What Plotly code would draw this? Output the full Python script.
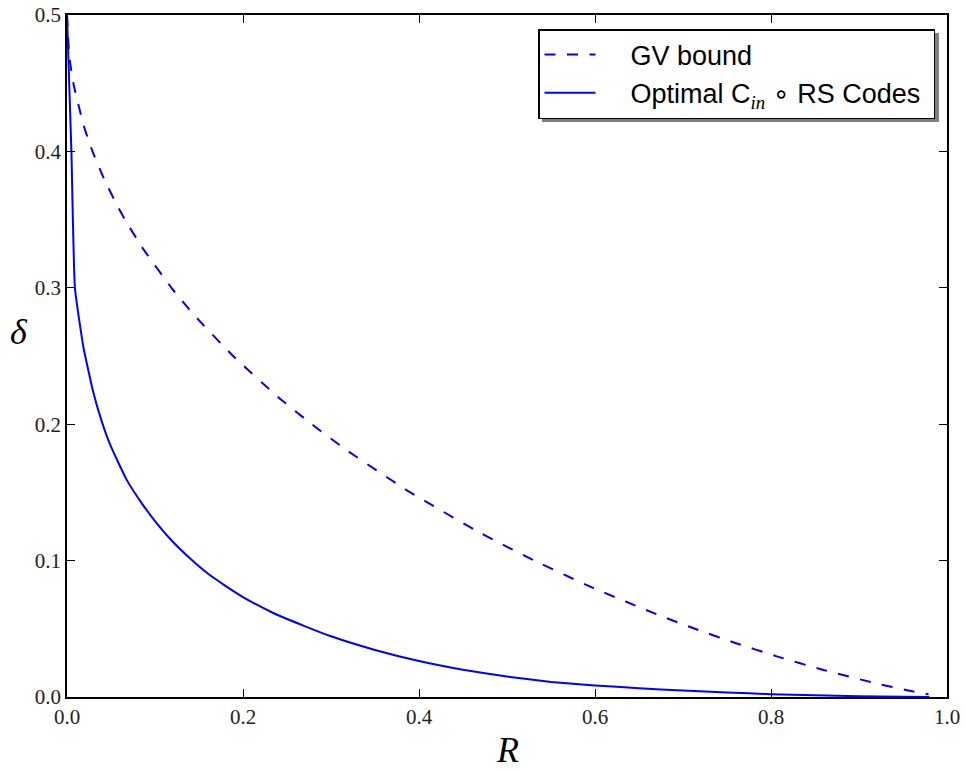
import plotly.graph_objects as go

# GV bound
gv_R = [0.0, 0.0026, 0.0072, 0.0185, 0.0235, 0.029, 0.042, 0.0573, 0.0659, 0.085,
        0.1187, 0.1445, 0.1887, 0.2398, 0.2781, 0.3199, 0.3902, 0.4706, 0.531,
        0.5978, 0.6726, 0.7136, 0.7577, 0.8056, 0.8586, 0.9192, 0.9546, 0.979]
gv_d = [0.5, 0.47, 0.45, 0.42, 0.41, 0.40, 0.38, 0.36, 0.35, 0.33,
        0.30, 0.28, 0.25, 0.22, 0.20, 0.18, 0.15, 0.12, 0.10,
        0.08, 0.06, 0.05, 0.04, 0.03, 0.02, 0.01, 0.005, 0.002]

# Optimal C_in o RS codes
rs_R = [0.0, 0.005, 0.009, 0.0185, 0.030, 0.040, 0.050, 0.068, 0.085, 0.10, 0.12, 0.14,
        0.16, 0.18, 0.20, 0.235, 0.27, 0.30, 0.35, 0.40, 0.45, 0.50, 0.55, 0.60,
        0.65, 0.70, 0.75, 0.80, 0.85, 0.90, 0.95, 0.98]
rs_d = [0.5, 0.40, 0.30, 0.257, 0.223, 0.201, 0.1835, 0.159, 0.142, 0.129, 0.114, 0.1015,
        0.0905, 0.0815, 0.0733, 0.0614, 0.052, 0.0445, 0.0345, 0.0264, 0.020, 0.0150, 0.0110, 0.0085,
        0.0064, 0.0047, 0.0033, 0.0021, 0.0012, 0.0006, 0.0002, 0.0]

x_ticks = [0.0, 0.2, 0.4, 0.6, 0.8, 1.0]
y_ticks = [0.0, 0.1, 0.2, 0.3, 0.4, 0.5]

W, H = 966, 772
L, R_, T, B = 67, 19, 15, 75

pad = "\u00a0" * 4
fig = go.Figure()
fig.add_trace(go.Scatter(x=gv_R, y=gv_d, mode="lines", name=pad + "GV bound",
                         line=dict(color="#0000ff", width=2, dash="11px,11.5px", shape="spline", smoothing=0.5)))
fig.add_trace(go.Scatter(x=rs_R, y=rs_d, mode="lines",
                         name=pad + "Optimal C<sub><i><span style='font-family:Liberation Serif'>in</span></i></sub>"
                              " <span style='font-family:DejaVu Sans'>∘</span> RS Codes\u00a0",
                         line=dict(color="#0000ff", width=2, shape="spline", smoothing=0.4)))

serif = "Liberation Serif"
axis_common = dict(showgrid=False, zeroline=False, showline=True, linecolor="black", linewidth=1.6,
                   mirror="ticks", ticks="inside", ticklen=8, tickwidth=1, tickcolor="black",
                   automargin=False,
                   tickfont=dict(family=serif, size=21, color="#222"))

fig.update_xaxes(range=[0, 1], tickvals=x_ticks, ticktext=[f"{v:.1f}" for v in x_ticks], **axis_common)
fig.update_yaxes(range=[0, 0.5], tickvals=y_ticks, ticktext=[f"{v:.1f}" for v in y_ticks], **axis_common)

pw = W - L - R_
ph = H - T - B

fig.add_annotation(text="<i>R</i>", xref="paper", yref="paper", x=0.5, y=0, yshift=-53,
                   showarrow=False, font=dict(family=serif, size=36, color="black"),
                   xanchor="center", yanchor="middle")
fig.add_annotation(text="<i>δ</i>", xref="paper", yref="paper", x=0, xshift=-48,
                   y=(697 - 332) / ph, showarrow=False, font=dict(family=serif, size=36, color="black"),
                   xanchor="center", yanchor="middle")

# legend placement and shadow
lg_right = (935 - L) / pw
lg_top = (697 - 29) / ph
fig.add_shape(type="rect", xref="paper", yref="paper",
              x0=(538 + 4 - L) / pw, x1=(935 + 4 - L) / pw,
              y0=(697 - 118 - 4) / ph, y1=(697 - 29 - 4) / ph,
              fillcolor="#808080", line=dict(width=0), layer="above")

fig.update_layout(
    width=W, height=H, margin=dict(l=L, r=R_, t=T, b=B, autoexpand=False),
    autosize=False,
    paper_bgcolor="white", plot_bgcolor="white",
    showlegend=True,
    legend=dict(x=lg_right, y=lg_top, xanchor="right", yanchor="top",
                bgcolor="white", bordercolor="black", borderwidth=1.5,
                font=dict(family="Liberation Sans", size=27, color="black"),
                itemwidth=51, tracegroupgap=0),
)

fig.write_html("out.html",
               config={"displayModeBar": False, "responsive": False},
               post_script="document.body.style.margin='0px';document.body.style.overflow='hidden';")
